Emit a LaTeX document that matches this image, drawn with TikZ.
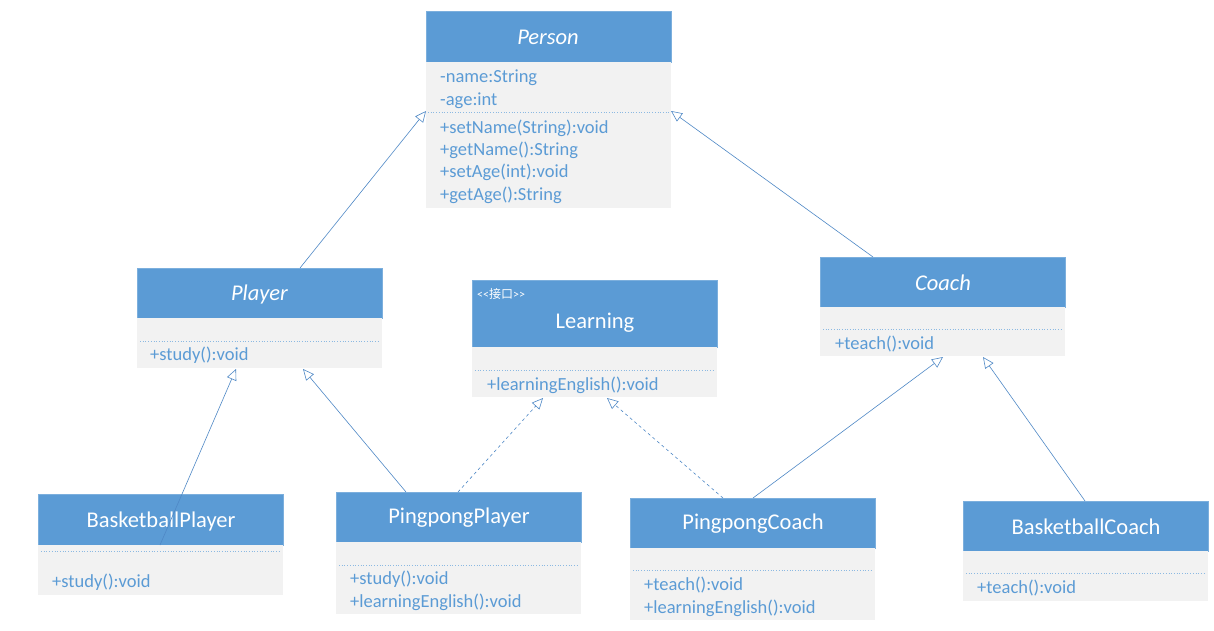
\documentclass[tikz,border=0pt]{standalone}
\usepackage{fontspec}
\setmainfont{Carlito}
\newfontfamily\cjk{Noto Sans CJK SC}
\usetikzlibrary{arrows.meta}
\definecolor{umlblue}{HTML}{5B9BD5}
\definecolor{umlgray}{HTML}{F2F2F2}
\definecolor{linkblue}{HTML}{4F88C6}
\tikzset{
  hdr/.style={rectangle, fill=umlblue, draw=umlblue!80!white, line width=0.4pt, anchor=north west, inner sep=0pt, minimum width=245pt},
  bodybox/.style={rectangle, fill=umlgray, anchor=north west, inner sep=0pt, minimum width=245pt},
  htext/.style={text=white, font=\fontsize{22.5}{26}\selectfont, inner sep=0pt},
  hitext/.style={text=white, font=\fontsize{22.5}{26}\selectfont\itshape, inner sep=0pt},
  btext/.style={text=umlblue, font=\fontsize{18.5}{22}\selectfont, anchor=west, inner sep=0pt},
  divider/.style={draw=umlblue!70!white, line width=0.7pt, dotted},
  inherit/.style={draw=linkblue, line width=0.6pt, -{Triangle[open, length=11pt, width=10pt]}},
  realize/.style={inherit, dashed},
}
\begin{document}
\begin{tikzpicture}[x=1pt,y=-1pt]
\useasboundingbox (0,0) rectangle (1214,631);
\fill[white] (0,0) rectangle (1214,631);

% ---------- Person ----------
\node[hdr, minimum height=51pt] (personh) at (426,11) {};
\node[bodybox, minimum height=146pt] (personb) at (426,62) {};
\node[hitext] (persont) at (548,37) {Person};
\draw[divider] (428,112) -- (669,112);
\node[btext] (p1) at (440,78) {-name:String};
\node[btext] (p2) at (440,101) {-age:int};
\node[btext] (p3) at (440,128) {+setName(String):void};
\node[btext] (p4) at (440,150) {+getName():String};
\node[btext] (p5) at (440,172) {+setAge(int):void};
\node[btext] (p6) at (440,195) {+getAge():String};

% ---------- Player ----------
\node[hdr, minimum height=50pt] (playerh) at (137,268) {};
\node[bodybox, minimum height=50pt] (playerb) at (137,318) {};
\node[hitext] (playert) at (259.5,294) {Player};
\draw[divider] (140,341) -- (380,341);
\node[btext] (pl1) at (150,355) {+study():void};

% ---------- Learning ----------
\node[hdr, minimum height=67pt] (learnh) at (472,280) {};
\node[bodybox, minimum height=50pt] (learnb) at (472,347) {};
\node[text=white, font=\fontsize{12}{14}\selectfont, anchor=west, inner sep=0pt] (learns) at (477,294) {<{}<{\cjk 接口}>{}>};
\node[htext] (learnt) at (595,323) {Learning};
\draw[divider] (475,370) -- (715,370);
\node[btext] (l1) at (487,385) {+learningEnglish():void};

% ---------- Coach ----------
\node[hdr, minimum height=50pt] (coachh) at (820,257) {};
\node[bodybox, minimum height=49pt] (coachb) at (820,307) {};
\node[hitext] (coacht) at (943,283) {Coach};
\draw[divider] (823,329) -- (1063,329);
\node[btext] (c1) at (835,344) {+teach():void};

% ---------- BasketballPlayer ----------
\node[hdr, minimum height=51pt] (bph) at (38,494) {};
\node[bodybox, minimum height=50pt] (bpb) at (38,545) {};
\node[htext] (bpt) at (161,521) {BasketballPlayer};
\draw[divider] (41,551) -- (281,551);
\node[btext] (bp1) at (52,582) {+study():void};

% ---------- PingpongPlayer ----------
\node[hdr, minimum height=50pt] (pph) at (336,492) {};
\node[bodybox, minimum height=72pt] (ppb) at (336,542) {};
\node[htext] (ppt) at (459,518) {PingpongPlayer};
\draw[divider] (339,565) -- (579,565);
\node[btext] (pp1) at (350,579) {+study():void};
\node[btext] (pp2) at (350,602) {+learningEnglish():void};

% ---------- PingpongCoach ----------
\node[hdr, minimum height=50pt] (pch) at (630,498) {};
\node[bodybox, minimum height=72pt] (pcb) at (630,548) {};
\node[htext] (pct) at (753,524) {PingpongCoach};
\draw[divider] (633,570) -- (873,570);
\node[btext] (pc1) at (644,585) {+teach():void};
\node[btext] (pc2) at (644,608) {+learningEnglish():void};

% ---------- BasketballCoach ----------
\node[hdr, minimum height=50pt] (bch) at (963,501) {};
\node[bodybox, minimum height=50pt] (bcb) at (963,551) {};
\node[htext] (bct) at (1086,527) {BasketballCoach};
\draw[divider] (966,573) -- (1206,573);
\node[btext] (bc1) at (977,588) {+teach():void};

% ---------- connector ends ----------
\coordinate (plTop) at (300,268);
\coordinate (personL) at (426,111);
\coordinate (coTop) at (873,257);
\coordinate (personR) at (671,111);
\coordinate (bpStart) at (160,545);
\coordinate (plBotL) at (236,369);
\coordinate (ppTopL) at (406,492);
\coordinate (plBotR) at (303,369);
\coordinate (ppTopR) at (458,492);
\coordinate (lnBotL) at (543,398);
\coordinate (pcTopL) at (723,498);
\coordinate (lnBotR) at (607,398);
\coordinate (pcTopR) at (753,498);
\coordinate (coBotL) at (943,357);
\coordinate (bcTop) at (1085,501);
\coordinate (coBotR) at (983,357);

\draw[inherit] (plTop) -- (personL);
\draw[inherit] (coTop) -- (personR);
\draw[inherit] (bpStart) -- (plBotL);
\draw[inherit] (ppTopL) -- (plBotR);
\draw[realize] (ppTopR) -- (lnBotL);
\draw[realize] (pcTopL) -- (lnBotR);
\draw[inherit] (pcTopR) -- (coBotL);
\draw[inherit] (bcTop) -- (coBotR);
\end{tikzpicture}
\end{document}
